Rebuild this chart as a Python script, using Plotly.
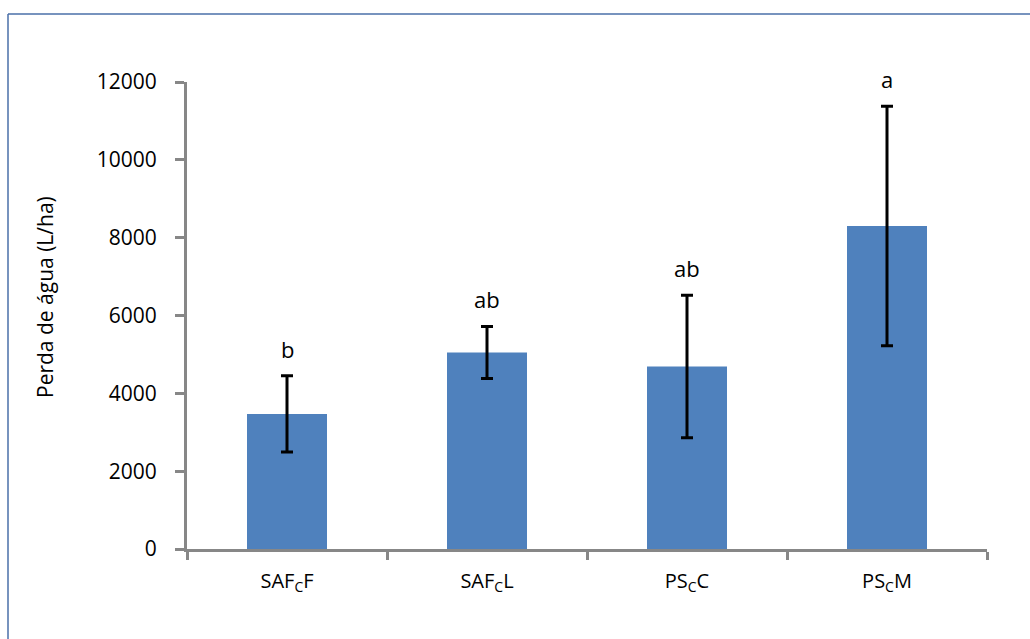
import plotly.graph_objects as go

# Perda de água por sistema de uso (média ± erro)
categories = ["SAF<sub>C</sub>F", "SAF<sub>C</sub>L", "PS<sub>C</sub>C", "PS<sub>C</sub>M"]
means = [3470, 5050, 4690, 8300]
errors = [980, 670, 1830, 3080]
letters = ["b", "ab", "ab", "a"]
y_ticks = [0, 2000, 4000, 6000, 8000, 10000, 12000]

W, H = 1030, 639
ML, MR, MT, MB = 187, 43, 82, 90
plot_w = W - ML - MR
plot_h = H - MT - MB

FONT = "Open Sans, Noto Sans, sans-serif"
AXIS_GREY = "#878787"

fig = go.Figure()
fig.add_trace(go.Bar(
    x=categories,
    y=means,
    marker=dict(color="#4F81BD", line=dict(width=0)),
    width=0.4,
    error_y=dict(type="data", array=errors, visible=True,
                 color="black", thickness=3, width=6),
))

# significance letters above each error bar
for cat, m, e, lab in zip(categories, means, errors, letters):
    fig.add_annotation(x=cat, y=m + e, text=lab, showarrow=False,
                       yanchor="middle", yshift=27,
                       font=dict(family=FONT, size=22, color="black"))

# y-axis title
fig.add_annotation(xref="paper", yref="paper",
                   x=(45 - ML) / plot_w, y=(MT + plot_h - 297) / plot_h,
                   text="Perda de água (L/ha)", textangle=-90, showarrow=False,
                   xanchor="center", yanchor="middle",
                   font=dict(family=FONT, size=21, color="black"))

# outer chart border (top and left edges)
bx = (8 - ML) / plot_w
by = (MT + plot_h - 14) / plot_h
fig.add_shape(type="line", xref="paper", yref="paper", x0=bx, x1=2, y0=by, y1=by,
              line=dict(color="#4A6FA8", width=1.5))
fig.add_shape(type="line", xref="paper", yref="paper", x0=bx, x1=bx, y0=by, y1=-2,
              line=dict(color="#4A6FA8", width=1.5))

fig.update_layout(
    width=W, height=H,
    margin=dict(l=ML, r=MR, t=MT, b=MB, autoexpand=False),
    plot_bgcolor="white", paper_bgcolor="white",
    showlegend=False,
    font=dict(family=FONT, size=20, color="black"),
    xaxis=dict(
        type="category", tickson="boundaries", ticks="outside",
        ticklen=8, tickwidth=3, tickcolor=AXIS_GREY,
        showline=True, linecolor=AXIS_GREY, linewidth=3,
        showgrid=False, zeroline=False,
        ticklabelstandoff=12,
        tickfont=dict(family=FONT, size=20, color="black"),
    ),
    yaxis=dict(
        range=[0, 12000], tickvals=y_ticks, ticktext=[str(v) for v in y_ticks],
        ticks="outside", ticklen=9, tickwidth=3, tickcolor=AXIS_GREY,
        showline=True, linecolor=AXIS_GREY, linewidth=3,
        showgrid=False, zeroline=False,
        ticklabelstandoff=14,
        tickfont=dict(family=FONT, size=21, color="black"),
    ),
)

fig.write_html("out.html")
